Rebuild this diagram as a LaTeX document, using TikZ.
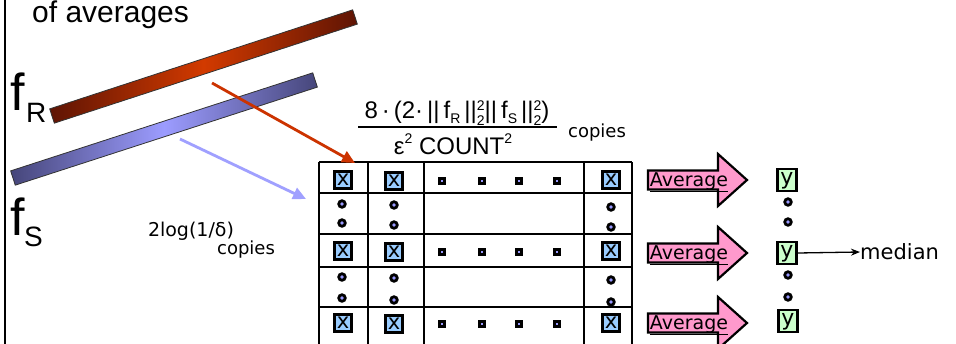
\documentclass[tikz,border=0pt]{standalone}
\usepackage{fontspec}
\setmainfont{Liberation Sans}
\newfontfamily\comic{DejaVu Sans}
\usetikzlibrary{arrows.meta}
\definecolor{rdark}{HTML}{5E1404}
\definecolor{rmid}{HTML}{D23A00}
\definecolor{bdark}{HTML}{46467A}
\definecolor{bmid}{HTML}{9C9CFF}
\definecolor{redarr}{HTML}{CC3300}
\definecolor{bluearr}{HTML}{A0A0FF}
\definecolor{xblue}{HTML}{99CCFF}
\definecolor{lav}{HTML}{9999FF}
\definecolor{avgpink}{HTML}{FF99CC}
\definecolor{ygreen}{HTML}{CCFFCC}
\newcommand\mysub[1]{\raisebox{-0.22em}{\fontsize{14}{14}\selectfont #1}}
\newcommand\mysup[1]{\raisebox{0.42em}{\fontsize{14}{14}\selectfont #1}}
\newcommand\mysupsub[2]{\raisebox{-0.30em}{\fontsize{14}{11}\selectfont\shortstack[c]{#1\\[2pt]#2}}}
\begin{document}
\begin{tikzpicture}[x=1pt,y=-1pt,
  xbox/.style={draw=black,line width=3.4pt,fill=xblue,minimum width=16.5pt,minimum height=16.5pt,inner sep=0pt,font=\comic\fontsize{21}{21}\selectfont},
  sqbox/.style={draw=black,line width=2.8pt,fill=lav,minimum size=4.5pt,inner sep=0pt},
  dotn/.style={circle,draw=black,line width=2.8pt,fill=lav,minimum size=6.5pt,inner sep=0pt},
  ybox/.style={draw=black,line width=2.4pt,fill=ygreen,minimum width=19pt,minimum height=22pt,inner sep=0pt,text height=12pt,text depth=3pt,font=\comic\fontsize{22}{22}\selectfont},
  avgshape/.style={draw=black,line width=2.2pt,fill=avgpink},
  avgtext/.style={font=\comic\fontsize{19}{19}\selectfont,inner sep=0pt,text height=13pt,text depth=3pt},
  tableline/.style={line width=1.3pt,black},
  bigtxt/.style={inner sep=0pt,anchor=base west},
  comictxt/.style={inner sep=0pt,font=\comic\fontsize{18}{18}\selectfont},
  bararrow/.style={line width=2.8pt,-{Triangle[width=12pt,length=13pt]}}
]
\useasboundingbox (0,0) rectangle (956,343);
\fill[white] (0,0) rectangle (956,343);
% left border
\draw[line width=2.2pt] (5,-2) -- (5,345);
% title
\node[bigtxt,font=\fontsize{30}{30}\selectfont] (title) at (32,22) {of averages};
% bars
\begin{scope}[shift={(203.5,66.5)},rotate=18.1]
  \shade[left color=rdark,right color=rdark,middle color=rmid,draw=black!80,line width=0.8pt]
    (-159.4,-7.5) rectangle (159.4,7.5);
\end{scope}
\begin{scope}[shift={(164,129)},rotate=17.98]
  \shade[left color=bdark,right color=bdark,middle color=bmid,draw=black!80,line width=0.8pt]
    (-158.8,-7.5) rectangle (158.8,7.5);
\end{scope}
% f labels
\node[bigtxt,font=\fontsize{52}{52}\selectfont] (fR) at (10,110) {f};
\node[bigtxt,font=\fontsize{28}{28}\selectfont] (fRs) at (26,122) {R};
\node[bigtxt,font=\fontsize{52}{52}\selectfont] (fS) at (10,235) {f};
\node[bigtxt,font=\fontsize{28}{28}\selectfont] (fSs) at (24,246) {S};
% fraction
\node[inner sep=0pt,anchor=base,font=\fontsize{24}{24}\selectfont] (num) at (457,118)
  {8\,·\,(2·\,||\,f\mysub{R}\,||\mysupsub{2}{2}||\,f\mysub{S}\,||\mysupsub{2}{2})};
\draw[line width=1.2pt] (358,127) -- (557,127);
\node[inner sep=0pt,anchor=base,font=\fontsize{24}{24}\selectfont] (den) at (453,154)
  {ε\mysup{2} COUNT\mysup{2}};
\node[comictxt] (copies1) at (597,133) {copies};
\node[comictxt,font=\comic\fontsize{19}{19}\selectfont] (logd) at (191,231) {2log(1/δ)};
\node[comictxt] (copies2) at (246,250) {copies};
% table
\draw[tableline] (319,162) -- (632,162);
\foreach \yy in {193,234,267,307} \draw[tableline] (319,\yy) -- (632,\yy);
\foreach \xx in {319,368,424,584,632} \draw[tableline] (\xx,162) -- (\xx,345);
% x boxes and small squares
\foreach \r/\yy in {1/180,3/251,5/323}{
  \node[xbox] (xa\r) at (343,\yy) {x};
  \node[xbox] (xb\r) at (394,{\yy+1}) {x};
  \node[xbox] (xc\r) at (611,\yy) {x};
  \foreach \s/\xx in {1/442,2/482,3/519,4/557}
    \node[sqbox] (sq\r\s) at (\xx,{\yy+1}) {};
}
% dots in table
\foreach \r/\ya/\yb in {2/204/223,4/277/298}{
  \node[dotn] (da\r a) at (342,\ya) {};
  \node[dotn] (da\r b) at (342,\yb) {};
  \node[dotn] (db\r a) at (394,{\ya+1}) {};
  \node[dotn] (db\r b) at (394,{\yb+2}) {};
  \node[dotn] (dc\r a) at (611,{\ya+3}) {};
  \node[dotn] (dc\r b) at (611,{\yb+4}) {};
}
% arrows from bars
\coordinate (rs) at (212,83);
\coordinate (re) at (355,163);
\coordinate (bs) at (180,139);
\coordinate (be) at (306,199);
\draw[bararrow,redarr] (rs) -- (re);
\draw[bararrow,bluearr] (bs) -- (be);
% average arrows
\foreach \c/\n in {180/1,253/2,323/3}{
  \path[avgshape] (648,{\c-9.5}) -- (718,{\c-9.5}) -- (718,{\c-26}) -- (747,\c)
     -- (718,{\c+26}) -- (718,{\c+9.5}) -- (648,{\c+9.5}) -- cycle;
  \node[avgtext] (avg\n) at (689,{\c+1}) {\underline{Average}};
}
% y boxes
\node[ybox] (y1) at (787,180) {y};
\node[ybox] (y2) at (787,253) {y};
\node[ybox] (y3) at (788,321) {y};
\foreach \yy/\n in {202/1,222/2,275/3,297/4}
  \node[dotn] (yd\n) at (788,\yy) {};
% median
\node[comictxt,anchor=west,font=\comic\fontsize{21}{21}\selectfont] (med) at (860,252) {median};
\draw[line width=1.3pt,-{Stealth[length=9pt,width=7pt]}] (y2.east) -- (med.west);
\end{tikzpicture}
\end{document}
